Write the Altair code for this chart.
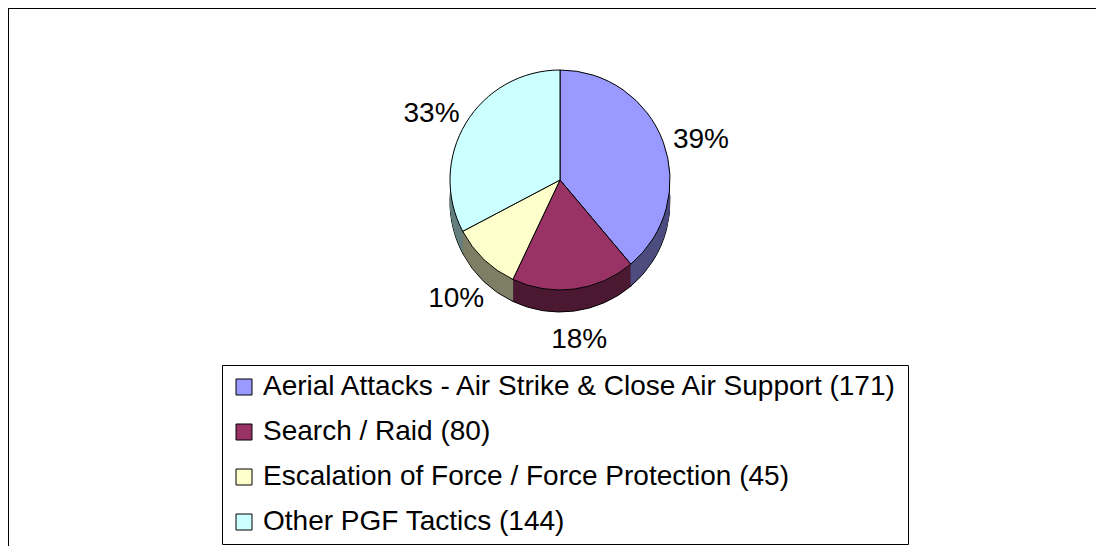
import altair as alt
import pandas as pd

categories = [
    "Aerial Attacks - Air Strike & Close Air Support",
    "Search / Raid",
    "Escalation of Force / Force Protection",
    "Other PGF Tactics",
]
counts = [171, 80, 45, 144]
top_colors = ["#9999FF", "#993366", "#FFFFCC", "#CCFFFF"]
side_colors = ["#4C4C7F", "#4C1933", "#7F7F66", "#667F7F"]

total = sum(counts)
df = pd.DataFrame({
    "idx": list(range(len(categories))),
    "label": [f"{c} ({n})" for c, n in zip(categories, counts)],
    "count": counts,
    "pct": [f"{round(n / total * 100)}%" for n in counts],
    "side": side_colors,
})

CX, CY = 552, 172
R = 110
DEPTH = 22
FONT = "Liberation Sans"

base = alt.Chart(df)
theta = alt.Theta("count:Q", stack=True)
order = alt.Order("idx:Q")

layers = []
for d in range(DEPTH, 0, -1):
    kw = {"stroke": "black", "strokeWidth": 1} if d == DEPTH else {"strokeWidth": 0}
    layers.append(
        base.mark_arc(outerRadius=R, **kw).encode(
            theta=theta,
            order=order,
            color=alt.Color("side:N", scale=None),
            x=alt.value(CX),
            y=alt.value(CY + d),
        )
    )

top = base.mark_arc(outerRadius=R, stroke="black", strokeWidth=1).encode(
    theta=theta,
    order=order,
    color=alt.Color(
        "label:N",
        scale=alt.Scale(domain=df["label"].tolist(), range=top_colors),
        legend=alt.Legend(
            orient="none",
            legendX=214,
            legendY=357,
            title=None,
            strokeColor="black",
            fillColor="white",
            padding=8,
            symbolType="square",
            symbolSize=256,
            symbolStrokeColor="black",
            symbolStrokeWidth=1,
            labelFont=FONT,
            labelFontSize=28,
            labelColor="black",
            labelOffset=5,
            labelLimit=2000,
            rowPadding=17,
        ),
    ),
    x=alt.value(CX),
    y=alt.value(CY),
)
layers.append(top)

labels = base.mark_text(radius=R + 40, font=FONT, fontSize=28, color="black").encode(
    theta=theta,
    order=order,
    text="pct:N",
    x=alt.value(CX),
    y=alt.value(CY + DEPTH / 2),
)
layers.append(labels)

frame_top = base.mark_rule(color="black", strokeWidth=2).encode(
    x=alt.value(0), x2=alt.value(1200), y=alt.value(0)
)
frame_left = base.mark_rule(color="black", strokeWidth=2).encode(
    x=alt.value(0), y=alt.value(0), y2=alt.value(700)
)
layers += [frame_top, frame_left]

chart = (
    alt.layer(*layers)
    .properties(
        width=1088,
        height=538,
        padding=0,
        autosize=alt.AutoSizeParams(type="none"),
        background="white",
    )
    .configure_view(strokeWidth=0, stroke="transparent")
)

chart.save("out.html", embed_options={"renderer": "svg", "actions": False})
